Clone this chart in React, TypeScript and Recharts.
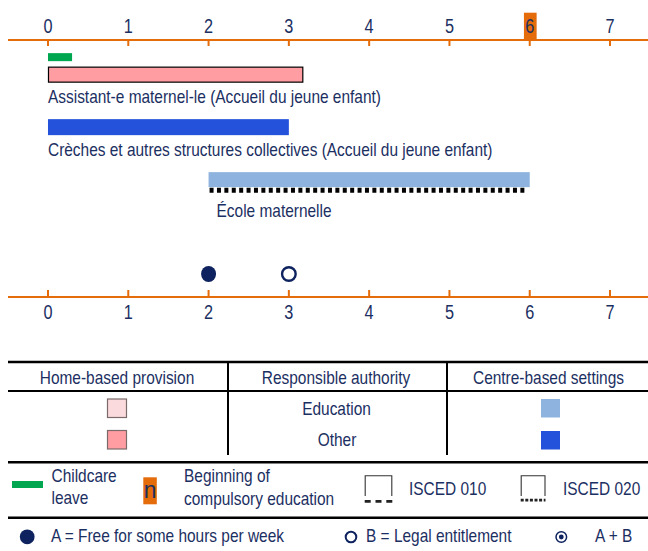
import React from "react";
import { ComposedChart, Bar, XAxis, YAxis, ScatterChart, Scatter } from "recharts";

// ages shown on both axes
const ageTicks = [0, 1, 2, 3, 4, 5, 6, 7];
const compulsoryAge = 6;

// provision rows (gap rows only keep the spacing between bars)
const rowKeys = ["leave", "assistant", "gap1", "gap2", "creches", "gap3", "gap4", "ecole"];
const rowStart = [0, 0, null, null, 0, null, null, 2];
const rowEnd = [0.3, 3.18, null, null, 3, null, null, 6];
const rowLabels = [
  "",
  "Assistant-e maternel-le (Accueil du jeune enfant)",
  "",
  "",
  "Crèches et autres structures collectives (Accueil du jeune enfant)",
  "",
  "",
  "École maternelle",
];

// A = free hours, B = legal entitlement
const dotAges = [2, 3];
const dotKinds = ["A", "B"];

const FONT = "'Liberation Sans', Arial, sans-serif";
const NAVY = "#1B2F62";
const DOT = "#0D225E";
const ORANGE = "#E46C0A";
const GREEN = "#00A650";
const PINK = "#FF9DA2";
const LIGHT_PINK = "#FADADD";
const BLUE = "#2452DB";
const LIGHT_BLUE = "#8DB3DE";
const DOMAIN: [number, number] = [-0.498, 7.473];

const rows = rowKeys.map((key, i) => ({
  key,
  range: rowStart[i] === null ? null : [rowStart[i], rowEnd[i]],
  label: rowLabels[i],
}));

const dots = dotAges.map((age, i) => ({ age, level: 1, kind: dotKinds[i] }));

const rowStyle: Record<string, { fill: string; h: number; stroke?: string; lx?: number; ly?: number; dotted?: boolean }> = {
  leave: { fill: GREEN, h: 8 },
  assistant: { fill: PINK, h: 15, stroke: "#000", lx: 0, ly: 28 },
  creches: { fill: BLUE, h: 16, lx: 0, ly: 29 },
  ecole: { fill: LIGHT_BLUE, h: 15, lx: 8, ly: 37, dotted: true },
};

// narrow text: Arial metrics squeezed to an Arial Narrow look
const NText = (p: { x: number; y: number; size?: number; anchor?: "start" | "middle"; fill?: string; sx?: number; children: React.ReactNode }) => (
  <text
    transform={`translate(${p.x} ${p.y}) scale(${p.sx || 0.835} 1)`}
    textAnchor={p.anchor || "start"}
    fill={p.fill || NAVY}
    fontSize={p.size || 18.5}
    fontFamily={FONT}
  >
    {p.children}
  </text>
);

const RowShape = (props: any) => {
  const { x, y, width, height, payload } = props;
  const st = payload ? rowStyle[payload.key] : undefined;
  if (!st || !payload.range || !isFinite(x) || !isFinite(width)) return <g />;
  const cy = y + height / 2;
  return (
    <g>
      <rect
        x={x + (st.stroke ? 0.5 : 0)}
        y={cy - st.h / 2}
        width={width - (st.stroke ? 1 : 0)}
        height={st.h}
        fill={st.fill}
        stroke={st.stroke || "none"}
        strokeWidth={st.stroke ? 1.2 : 0}
      />
      {st.dotted && (
        <line x1={x + 1} x2={x + width - 5} y1={cy + st.h / 2 + 3} y2={cy + st.h / 2 + 3} stroke="#000" strokeWidth={5} strokeDasharray="4 3.4" />
      )}
      {payload.label && (
        <NText x={x + (st.lx || 0)} y={cy + (st.ly || 0)}>
          {payload.label}
        </NText>
      )}
    </g>
  );
};

const TopTick = (props: any) => {
  const { x, y, payload } = props;
  return (
    <g>
      {payload.value === compulsoryAge && <rect x={x - 5.8} y={y - 27.3} width={12.7} height={27} fill={ORANGE} />}
      <line x1={x} x2={x} y1={y} y2={y + 6} stroke={ORANGE} strokeWidth={2} />
      <NText x={x} y={y - 7} size={19.5} anchor="middle">
        {payload.value}
      </NText>
    </g>
  );
};

const BottomTick = (props: any) => {
  const { x, y, payload } = props;
  return (
    <g>
      <line x1={x} x2={x} y1={y - 7} y2={y} stroke={ORANGE} strokeWidth={2} />
      <NText x={x} y={y + 22} size={19.5} anchor="middle">
        {payload.value}
      </NText>
    </g>
  );
};

const DotShape = (props: any) => {
  const { cx, cy, payload } = props;
  if (payload.kind === "A") return <ellipse cx={cx} cy={cy} rx={7.5} ry={8} fill={DOT} />;
  return <circle cx={cx} cy={cy} r={6.8} fill="#fff" stroke={DOT} strokeWidth={2.4} />;
};

const Legend = () => (
  <svg width={648} height={551} style={{ position: "absolute", left: 0, top: 0, pointerEvents: "none" }}>
    <line x1={8} x2={648} y1={362} y2={362} stroke="#000" strokeWidth={2.5} />
    <NText x={117} y={384} anchor="middle">Home-based provision</NText>
    <NText x={336} y={384} anchor="middle">Responsible authority</NText>
    <NText x={548.5} y={384} anchor="middle">Centre-based settings</NText>
    <line x1={8} x2={648} y1={391} y2={391} stroke="#000" strokeWidth={2} />
    <line x1={228} x2={228} y1={362} y2={455} stroke="#000" strokeWidth={2} />
    <line x1={447} x2={447} y1={362} y2={455} stroke="#000" strokeWidth={2} />
    <rect x={107.5} y={399} width={19} height={18.5} fill={LIGHT_PINK} stroke="#7a6a6a" strokeWidth={1.2} />
    <rect x={107.5} y={430.5} width={19} height={18.5} fill={PINK} stroke="#7a6a6a" strokeWidth={1.2} />
    <NText x={336.5} y={415} anchor="middle">Education</NText>
    <NText x={337} y={446} anchor="middle">Other</NText>
    <rect x={541} y={399} width={19} height={18.5} fill={LIGHT_BLUE} />
    <rect x={541} y={431} width={19} height={18.5} fill={BLUE} />
    <line x1={8} x2={648} y1={462.3} y2={462.3} stroke="#000" strokeWidth={2.5} />

    <rect x={12} y={481} width={31} height={7} fill={GREEN} />
    <NText x={51.5} y={482}>Childcare</NText>
    <NText x={51.5} y={504}>leave</NText>
    <rect x={143.3} y={477.3} width={13.5} height={27} fill={ORANGE} />
    <NText x={150} y={498.3} size={24} sx={0.95} anchor="middle">n</NText>
    <NText x={184} y={482}>Beginning of</NText>
    <NText x={184} y={505}>compulsory education</NText>

    <path d="M365.2 496 V475.8 H391.8 V496" fill="none" stroke="#333" strokeWidth={1.1} />
    <line x1={364.7} x2={392.3} y1={501.3} y2={501.3} stroke="#222" strokeWidth={2.7} strokeDasharray="6 4.8" />
    <NText x={409} y={494.7}>ISCED 010</NText>
    <path d="M521.2 496 V475.8 H545 V496" fill="none" stroke="#333" strokeWidth={1.1} />
    <line x1={520.7} x2={545.5} y1={500.2} y2={500.2} stroke="#222" strokeWidth={2.7} strokeDasharray="3 1.6" />
    <NText x={563} y={494.7}>ISCED 020</NText>
    <line x1={8} x2={648} y1={517.7} y2={517.7} stroke="#000" strokeWidth={2.5} />

    <circle cx={27.2} cy={536.8} r={7.4} fill={DOT} />
    <NText x={51} y={542.3}>A = Free for some hours per week</NText>
    <circle cx={351} cy={537} r={5.3} fill="#fff" stroke={DOT} strokeWidth={2} />
    <NText x={366} y={542.3}>B = Legal entitlement</NText>
    <circle cx={561.3} cy={537} r={5.3} fill="#fff" stroke={DOT} strokeWidth={1.5} />
    <circle cx={561.3} cy={537} r={2.4} fill={DOT} />
    <NText x={595} y={542.3}>A + B</NText>
  </svg>
);

export default function App() {
  return (
    <div style={{ position: "absolute", left: 0, top: 0, width: 648, height: 551, background: "#fff", fontFamily: FONT }}>
      <div style={{ position: "absolute", left: 0, top: 0 }}>
        <ComposedChart width={648} height={230} data={rows} layout="vertical" barCategoryGap={0} margin={{ top: 10, right: 0, left: 8, bottom: 41.85 }}>
          <XAxis
            type="number"
            orientation="top"
            domain={DOMAIN}
            ticks={ageTicks}
            allowDataOverflow
            interval={0}
            height={30}
            axisLine={{ stroke: ORANGE, strokeWidth: 2 }}
            tickLine={false}
            tickSize={0}
            tickMargin={0}
            tick={<TopTick />}
          />
          <YAxis type="category" dataKey="key" hide padding={{ top: 8.15, bottom: 0 }} />
          <Bar dataKey="range" isAnimationActive={false} shape={RowShape} />
        </ComposedChart>
      </div>
      <div style={{ position: "absolute", left: 0, top: 241 }}>
        <ScatterChart width={648} height={90} margin={{ top: 10, right: 0, left: 8, bottom: 4 }}>
          <XAxis
            type="number"
            dataKey="age"
            domain={DOMAIN}
            ticks={ageTicks}
            allowDataOverflow
            interval={0}
            height={30}
            axisLine={{ stroke: ORANGE, strokeWidth: 2 }}
            tickLine={false}
            tickSize={0}
            tickMargin={0}
            tick={<BottomTick />}
          />
          <YAxis type="number" dataKey="level" domain={[0, 2]} hide />
          <Scatter data={dots} isAnimationActive={false} shape={DotShape} />
        </ScatterChart>
      </div>
      <Legend />
    </div>
  );
}
